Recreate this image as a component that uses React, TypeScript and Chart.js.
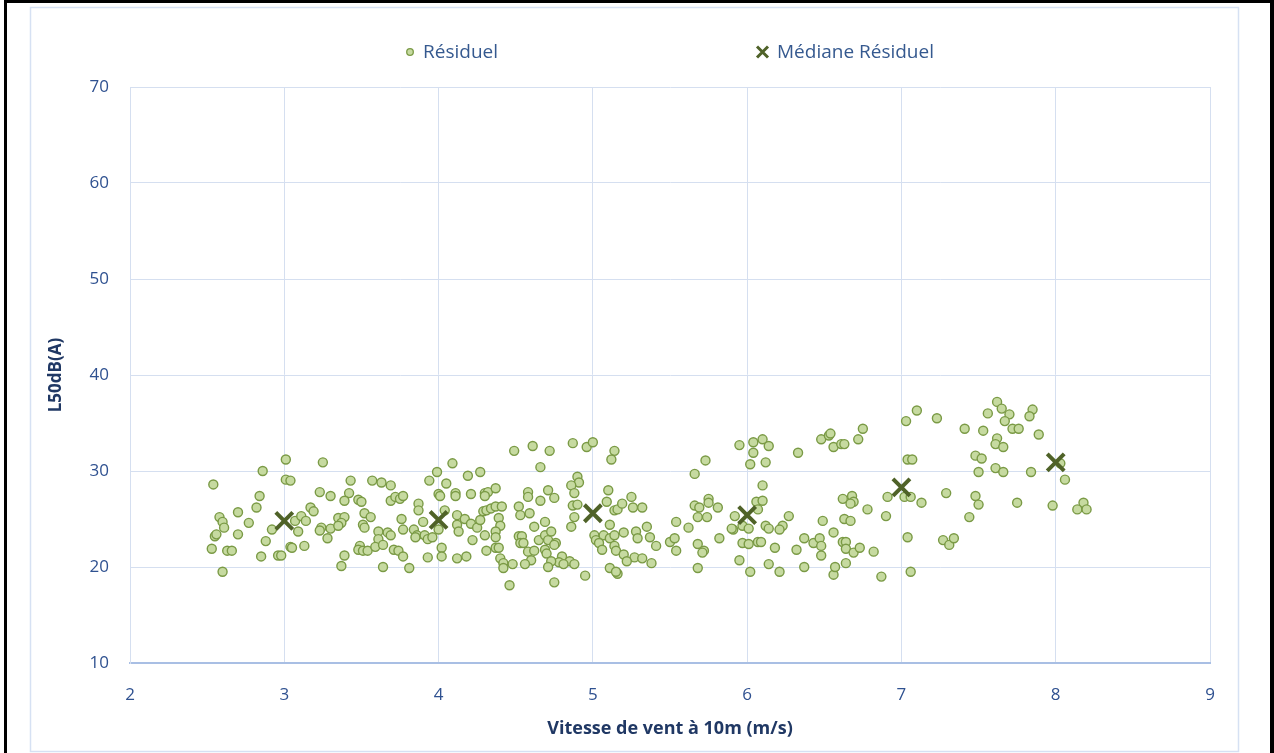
import React, { useEffect, useRef } from "react";
import { Chart, registerables } from "chart.js";

Chart.register(...registerables);

// ---- data ----
const seriesNames = ["Résiduel", "Médiane Résiduel"];
const xTitle = "Vitesse de vent à 10m (m/s)";
const yTitle = "L50dB(A)";
const xRange = [2, 9];
const yRange = [10, 70];

const medianSpeed = [3, 4, 5, 6, 7, 8];
const medianLevel = [24.8, 24.9, 25.6, 25.4, 28.3, 30.9];

const residualSpeed = [
  3.01, 3.25, 2.86, 2.54, 3.01, 3.04, 3.43, 3.23, 3.30, 3.42, 2.84, 3.39, 2.82, 2.70, 3.17, 3.19,
  2.58, 2.60, 2.61, 2.77, 3.07, 3.11, 3.14, 2.92, 3.09, 3.24, 3.23, 3.30, 3.35, 3.39, 3.37, 3.35,
  2.55, 2.56, 2.70, 3.28, 2.88, 2.53, 2.63, 2.66, 3.04, 3.05, 3.13, 2.85, 2.96, 2.98, 3.39, 3.37,
  2.60,
  4.09, 3.99, 4.27, 4.19, 4.49, 3.57, 3.63, 3.69, 3.94, 4.05, 3.48, 3.50, 3.69, 3.72, 3.75, 3.77,
  3.87, 3.87, 4.00, 4.01, 4.11, 4.11, 4.21, 4.30, 4.32, 4.30, 4.37, 4.29, 4.31, 4.34, 4.37, 4.41,
  3.52, 3.56, 3.51, 3.52, 3.76, 3.77, 3.90, 4.04, 4.12, 4.12, 4.13, 4.17, 4.21, 4.25, 4.27, 4.39,
  4.40, 3.61, 3.61, 3.67, 3.69, 3.84, 3.86, 3.85, 3.91, 3.93, 3.96, 4.00, 4.30, 4.37, 4.37, 3.49,
  3.48, 3.51, 3.54, 3.59, 3.64, 3.71, 3.74, 3.77, 4.02, 4.02, 3.93, 4.12, 4.18, 4.22, 4.31, 4.37,
  4.39, 4.40, 4.42, 4.48, 4.42, 3.64, 3.81, 4.46,
  4.61, 4.72, 4.87, 4.96, 5.00, 5.14, 5.12, 4.66, 4.90, 4.91, 4.86, 4.88, 4.58, 4.58, 4.71, 4.75,
  4.66, 4.52, 4.53, 4.59, 4.87, 4.90, 4.88, 4.86, 5.10, 5.09, 5.14, 5.16, 5.19, 5.25, 5.26, 5.32,
  5.11, 4.69, 4.62, 4.52, 4.54, 4.53, 4.55, 4.65, 4.69, 4.71, 4.73, 4.76, 4.75, 5.01, 5.02, 5.07,
  5.04, 5.11, 5.14, 5.20, 5.28, 5.29, 5.35, 5.37, 5.41, 5.50, 5.53, 4.58, 4.62, 4.60, 4.69, 4.70,
  4.80, 4.78, 4.73, 4.71, 4.85, 4.88, 4.81, 5.06, 5.14, 5.15, 5.20, 5.27, 5.32, 5.22, 5.38, 4.56,
  4.95, 4.75, 5.11, 5.16, 5.15,
  6.10, 6.04, 6.14, 5.95, 6.04, 6.02, 6.12, 6.33, 6.48, 6.53, 6.54, 6.56, 5.73, 5.66, 6.10, 6.06,
  6.10, 6.07, 5.66, 5.69, 5.68, 5.75, 5.75, 5.81, 5.74, 5.54, 5.62, 5.92, 5.91, 5.90, 5.97, 6.01,
  6.12, 6.14, 6.23, 6.21, 6.27, 6.49, 6.56, 5.82, 5.68, 5.72, 5.71, 5.54, 5.97, 6.01, 6.07, 6.09,
  6.18, 6.32, 6.37, 6.43, 6.47, 6.48, 6.48, 5.95, 6.14, 5.68, 6.02, 6.21, 6.37, 6.56, 6.57,
  7.10, 7.03, 7.23, 6.75, 6.72, 6.61, 6.63, 7.04, 7.07, 7.41, 6.62, 6.68, 6.69, 6.67, 6.91, 7.02,
  7.06, 7.13, 7.29, 6.78, 6.90, 6.63, 6.67, 7.04, 6.62, 6.64, 6.64, 6.69, 6.73, 6.82, 7.27, 7.31,
  7.34, 6.64, 6.87, 7.06,
  7.62, 7.65, 7.70, 7.67, 7.56, 7.85, 7.83, 7.53, 7.72, 7.76, 7.89, 7.62, 7.61, 7.66, 7.48, 7.52,
  8.03, 7.50, 7.61, 7.66, 7.84, 8.06, 7.48, 7.50, 7.75, 7.98, 8.18, 8.14, 8.20, 7.44,
];

const residualLevel = [
  31.2, 30.9, 30.0, 28.6, 29.1, 29.0, 29.0, 27.8, 27.4, 27.7, 27.4, 26.9, 26.2, 25.7, 26.2, 25.8,
  25.2, 24.7, 24.1, 24.6, 24.8, 25.3, 24.8, 23.9, 23.7, 24.1, 23.8, 24.0, 25.1, 25.2, 24.6, 24.3,
  23.2, 23.4, 23.4, 23.0, 22.7, 21.9, 21.7, 21.7, 22.1, 22.0, 22.2, 21.1, 21.2, 21.2, 21.2, 20.1,
  19.5,
  30.8, 29.9, 29.9, 29.5, 32.1, 29.0, 28.8, 28.5, 29.0, 28.7, 27.0, 26.8, 26.9, 27.3, 27.1, 27.4,
  26.6, 25.9, 27.6, 27.4, 27.7, 27.4, 27.6, 27.7, 27.8, 27.4, 28.2, 25.8, 25.9, 26.1, 26.3, 26.3,
  25.6, 25.2, 24.4, 24.1, 25.0, 23.9, 24.7, 25.9, 25.4, 24.4, 23.7, 25.0, 24.5, 24.1, 24.9, 25.1,
  24.3, 23.7, 22.9, 23.6, 23.3, 23.9, 23.3, 23.1, 23.3, 22.9, 23.1, 23.9, 23.3, 23.7, 23.1, 22.2,
  21.8, 21.7, 21.7, 22.1, 22.3, 21.8, 21.7, 21.1, 22.0, 21.1, 21.0, 20.9, 21.1, 22.8, 21.7, 22.0,
  22.0, 20.9, 20.4, 20.3, 19.9, 20.0, 19.9, 18.1,
  32.6, 32.1, 32.9, 32.5, 33.0, 32.1, 31.2, 30.4, 29.4, 28.8, 28.5, 27.7, 27.8, 27.3, 28.0, 27.2,
  26.9, 26.3, 25.4, 25.6, 26.4, 26.5, 25.2, 24.2, 28.0, 26.8, 25.9, 26.0, 26.6, 27.3, 26.2, 26.2,
  24.4, 24.7, 24.2, 23.2, 23.2, 22.5, 22.5, 22.8, 23.3, 22.8, 23.7, 22.5, 22.3, 23.3, 22.8, 23.3,
  22.5, 23.0, 23.3, 23.6, 23.7, 23.0, 24.2, 23.1, 22.2, 22.6, 23.0, 21.6, 21.7, 20.7, 21.8, 21.4,
  21.1, 20.5, 20.6, 20.0, 20.6, 20.3, 20.3, 21.8, 22.2, 21.7, 21.3, 21.0, 20.9, 20.6, 20.4, 20.3,
  19.1, 18.4, 19.9, 19.3, 19.5,
  33.3, 33.0, 32.6, 32.7, 31.9, 30.7, 30.9, 31.9, 33.3, 33.7, 33.9, 32.5, 31.1, 29.7, 28.5, 26.8,
  26.9, 26.0, 26.4, 26.2, 25.2, 27.1, 26.7, 26.2, 25.2, 24.7, 24.1, 25.3, 23.9, 24.0, 24.3, 24.0,
  24.3, 24.0, 24.3, 23.9, 25.3, 24.8, 23.6, 23.0, 22.4, 21.7, 21.5, 21.7, 22.5, 22.4, 22.6, 22.6,
  22.0, 21.8, 23.0, 22.5, 23.0, 22.2, 21.2, 20.7, 20.3, 19.9, 19.5, 19.5, 20.0, 19.2, 20.0,
  36.3, 35.2, 35.5, 34.4, 33.3, 32.8, 32.8, 31.2, 31.2, 34.4, 27.1, 27.4, 26.8, 26.6, 27.3, 27.3,
  27.3, 26.7, 27.7, 26.0, 25.3, 25.0, 24.8, 23.1, 22.6, 22.6, 21.9, 21.5, 22.0, 21.6, 22.8, 22.3,
  23.0, 20.4, 19.0, 19.5,
  37.2, 36.5, 35.9, 35.2, 36.0, 36.4, 35.7, 34.2, 34.4, 34.4, 33.8, 33.4, 32.8, 32.5, 31.6, 31.3,
  30.8, 29.9, 30.3, 29.9, 29.9, 29.1, 27.4, 26.5, 26.7, 26.4, 26.7, 26.0, 26.0, 25.2,
];

// ---- styles ----
const POINT_FILL = "#C6DAA0";
const POINT_EDGE = "#7A9A45";
const MEDIAN_COLOR = "#4F6228";
const TICK_COLOR = "#2F5190";
const TITLE_COLOR = "#203864";
const LEGEND_COLOR = "#35598F";
const GRID_COLOR = "#D5DFF0";
const FONT = '"Open Sans", "Noto Sans", sans-serif';

export default function App() {
  const ref = useRef<HTMLCanvasElement | null>(null);

  useEffect(() => {
    if (!ref.current) return;

    const framePlugin = {
      id: "frame",
      beforeDraw(chart: any) {
        const { ctx, width, height } = chart;
        ctx.save();
        ctx.fillStyle = "#ffffff";
        ctx.fillRect(0, 0, width, height);
        // inner light blue border
        ctx.strokeStyle = "#D6E1F3";
        ctx.lineWidth = 1.5;
        ctx.strokeRect(30.5, 7.5, 1208, 744);
        // black outer frame
        ctx.fillStyle = "#000000";
        ctx.fillRect(4, 0, width - 4, 3);
        ctx.fillRect(4, 0, 3, height);
        ctx.fillRect(width - 4, 0, 4, height);
        ctx.restore();
      },
    };

    const legendPlugin = {
      id: "customLegend",
      afterDraw(chart: any) {
        const { ctx, chartArea } = chart;
        ctx.save();
        ctx.font = `19px ${FONT}`;
        ctx.textBaseline = "middle";
        ctx.fillStyle = LEGEND_COLOR;
        const w1 = ctx.measureText(seriesNames[0]).width;
        const w2 = ctx.measureText(seriesNames[1]).width;
        const gap = 258;
        const total = 17 + w1 + gap + 21 + w2;
        const cx = (chartArea.left + chartArea.right) / 2;
        const y = 52;
        let x = cx - total / 2;
        // circle marker
        ctx.beginPath();
        ctx.arc(x + 4, y, 3.3, 0, Math.PI * 2);
        ctx.fillStyle = POINT_FILL;
        ctx.fill();
        ctx.lineWidth = 1.3;
        ctx.strokeStyle = POINT_EDGE;
        ctx.stroke();
        ctx.fillStyle = LEGEND_COLOR;
        ctx.fillText(seriesNames[0], x + 17, y + 1);
        x = x + 17 + w1 + gap;
        // X marker
        const s = 5.5;
        const mx = x + 6.5;
        ctx.beginPath();
        ctx.moveTo(mx - s, y - s);
        ctx.lineTo(mx + s, y + s);
        ctx.moveTo(mx + s, y - s);
        ctx.lineTo(mx - s, y + s);
        ctx.strokeStyle = MEDIAN_COLOR;
        ctx.lineWidth = 3;
        ctx.stroke();
        ctx.fillStyle = LEGEND_COLOR;
        ctx.fillText(seriesNames[1], x + 21, y + 1);
        ctx.restore();
      },
    };

    const chart = new Chart(ref.current, {
      type: "scatter",
      data: {
        datasets: [
          {
            label: seriesNames[1],
            data: medianSpeed.map((x, i) => ({ x, y: medianLevel[i] })),
            pointStyle: "crossRot",
            pointRadius: 12,
            pointBorderWidth: 4,
            borderColor: MEDIAN_COLOR,
            backgroundColor: MEDIAN_COLOR,
            order: 0,
          },
          {
            label: seriesNames[0],
            data: residualSpeed.map((x, i) => ({ x, y: residualLevel[i] })),
            pointStyle: "circle",
            pointRadius: 4.5,
            pointBorderWidth: 1.4,
            backgroundColor: POINT_FILL,
            borderColor: POINT_EDGE,
            order: 1,
          },
        ],
      },
      options: {
        responsive: false,
        animation: false,
        events: [],
        layout: { padding: { top: 87, right: 64, bottom: 0, left: 0 } },
        plugins: {
          legend: { display: false },
          tooltip: { enabled: false },
          title: { display: false },
        },
        scales: {
          x: {
            type: "linear",
            min: xRange[0],
            max: xRange[1],
            afterFit(scale: any) {
              scale.height = 90;
            },
            ticks: {
              stepSize: 1,
              color: TICK_COLOR,
              padding: 22,
              font: { family: FONT, size: 17 },
            },
            grid: { color: GRID_COLOR, lineWidth: 1, drawTicks: false },
            border: { color: "#A9BFE4", width: 2 },
            title: {
              display: true,
              text: xTitle,
              color: TITLE_COLOR,
              font: { family: FONT, size: 18, weight: "bold" },
              padding: { top: 0, bottom: 13 },
            },
          },
          y: {
            type: "linear",
            min: yRange[0],
            max: yRange[1],
            afterFit(scale: any) {
              scale.width = 130;
            },
            ticks: {
              stepSize: 10,
              color: TICK_COLOR,
              padding: 21,
              font: { family: FONT, size: 17 },
            },
            grid: { color: GRID_COLOR, lineWidth: 1, drawTicks: false },
            border: { color: GRID_COLOR, width: 1 },
            title: {
              display: true,
              text: yTitle,
              color: TITLE_COLOR,
              font: { family: FONT, size: 17, weight: "bold" },
              padding: { top: 46, bottom: 0 },
            },
          },
        },
      },
      plugins: [framePlugin, legendPlugin],
    });

    return () => chart.destroy();
  }, []);

  return (
    <div style={{ position: "fixed", left: 0, top: 0, width: 1274, height: 753, background: "#fff" }}>
      <canvas ref={ref} width={1274} height={753} style={{ display: "block", width: 1274, height: 753 }} />
    </div>
  );
}
